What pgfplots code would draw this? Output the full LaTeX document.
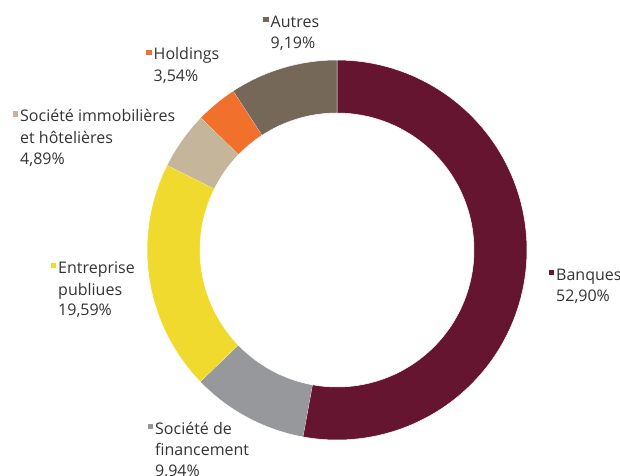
\documentclass[border=0pt]{standalone}
\usepackage{pgfplots}
\pgfplotsset{compat=1.18}
\usepackage{pgfplotstable}
\usepackage{fontspec}
\setmainfont{Open Sans}
\definecolor{cBanq}{HTML}{661530}
\definecolor{cFin}{HTML}{97989B}
\definecolor{cEnt}{HTML}{F0DA2E}
\definecolor{cImm}{HTML}{C4B59B}
\definecolor{cHol}{HTML}{F1702C}
\definecolor{cAut}{HTML}{756859}
\definecolor{txt}{HTML}{333333}

\pgfplotstableread{
sector value
Banques 52.90
Financement 9.94
Entreprise 19.59
Immobilieres 4.89
Holdings 3.54
Autres 9.19
}\donutdata

\newcommand\getval[2]{\pgfplotstablegetelem{#1}{value}\of\donutdata\let#2\pgfplotsretval}

% ring sector: start angle, end angle, colour
\newcommand\ring[3]{%
\addplot[fill=#3, draw=white, line width=0.5pt, domain=0:2, samples=201, variable=\t]
({337+ifthenelse(\t<1.005,190,137)*cos(ifthenelse(\t<1.005,(#1)+((#2)-(#1))*min(\t,1),(#2)-((#2)-(#1))*max(\t-1.01,0)/0.99))},
 {225+ifthenelse(\t<1.005,190,137)*sin(ifthenelse(\t<1.005,(#1)+((#2)-(#1))*min(\t,1),(#2)-((#2)-(#1))*max(\t-1.01,0)/0.99))});}

\newcommand\sq[1]{\llap{\textcolor{#1}{\raisebox{5pt}{\rule{5.5pt}{5.5pt}}}\hspace{2pt}}}
\tikzset{lbl/.style={font=\fontsize{16}{19}\selectfont, text=txt, inner sep=0pt, anchor=base west}}

\begin{document}
\begin{tikzpicture}
\getval{0}\vA \getval{1}\vB \getval{2}\vC \getval{3}\vD \getval{4}\vE \getval{5}\vF
\pgfmathsetmacro\tot{\vA+\vB+\vC+\vD+\vE+\vF}
\pgfmathsetmacro\aA{90}
\pgfmathsetmacro\aB{\aA-360*(\vA/\tot)}
\pgfmathsetmacro\aC{\aB-360*(\vB/\tot)}
\pgfmathsetmacro\aD{\aC-360*(\vC/\tot)}
\pgfmathsetmacro\aE{\aD-360*(\vD/\tot)}
\pgfmathsetmacro\aF{\aE-360*(\vE/\tot)}
\pgfmathsetmacro\aG{\aF-360*(\vF/\tot)}
\useasboundingbox (0,0) rectangle (620pt,475pt);
\clip (0,0) rectangle (620pt,475pt);
\begin{axis}[
  at={(0pt,0pt)}, anchor=south west,
  x=1pt, y=1pt, xmin=0, xmax=620, ymin=0, ymax=475,
  hide axis, clip=false,
]
\ring{\aA}{\aB}{cBanq}
\ring{\aB}{\aC}{cFin}
\ring{\aC}{\aD}{cEnt}
\ring{\aD}{\aE}{cImm}
\ring{\aE}{\aF}{cHol}
\ring{\aF}{\aG}{cAut}

% labels (pixel positions, y flipped)
\node[lbl] at (axis cs:556,195) {\sq{cBanq}Banques};
\node[lbl] at (axis cs:556,173.3) {52,90\%};

\node[lbl] at (axis cs:155,41) {\sq{cFin}Société de};
\node[lbl] at (axis cs:155,20) {financement};
\node[lbl] at (axis cs:155,-1) {9,94\%};

\node[lbl] at (axis cs:58,201.7) {\sq{cEnt}Entreprise};
\node[lbl] at (axis cs:58,180) {publiues};
\node[lbl] at (axis cs:58,159.3) {19,59\%};

\node[lbl] at (axis cs:20,353.3) {\sq{cImm}Société immobilières};
\node[lbl] at (axis cs:20,331.7) {et hôtelières};
\node[lbl] at (axis cs:20,310.7) {4,89\%};

\node[lbl] at (axis cs:153.5,415) {\sq{cHol}Holdings};
\node[lbl] at (axis cs:153.5,394) {3,54\%};

\node[lbl] at (axis cs:270.5,447.7) {\sq{cAut}Autres};
\node[lbl] at (axis cs:270.5,426.7) {9,19\%};
\end{axis}
\end{tikzpicture}
\end{document}
